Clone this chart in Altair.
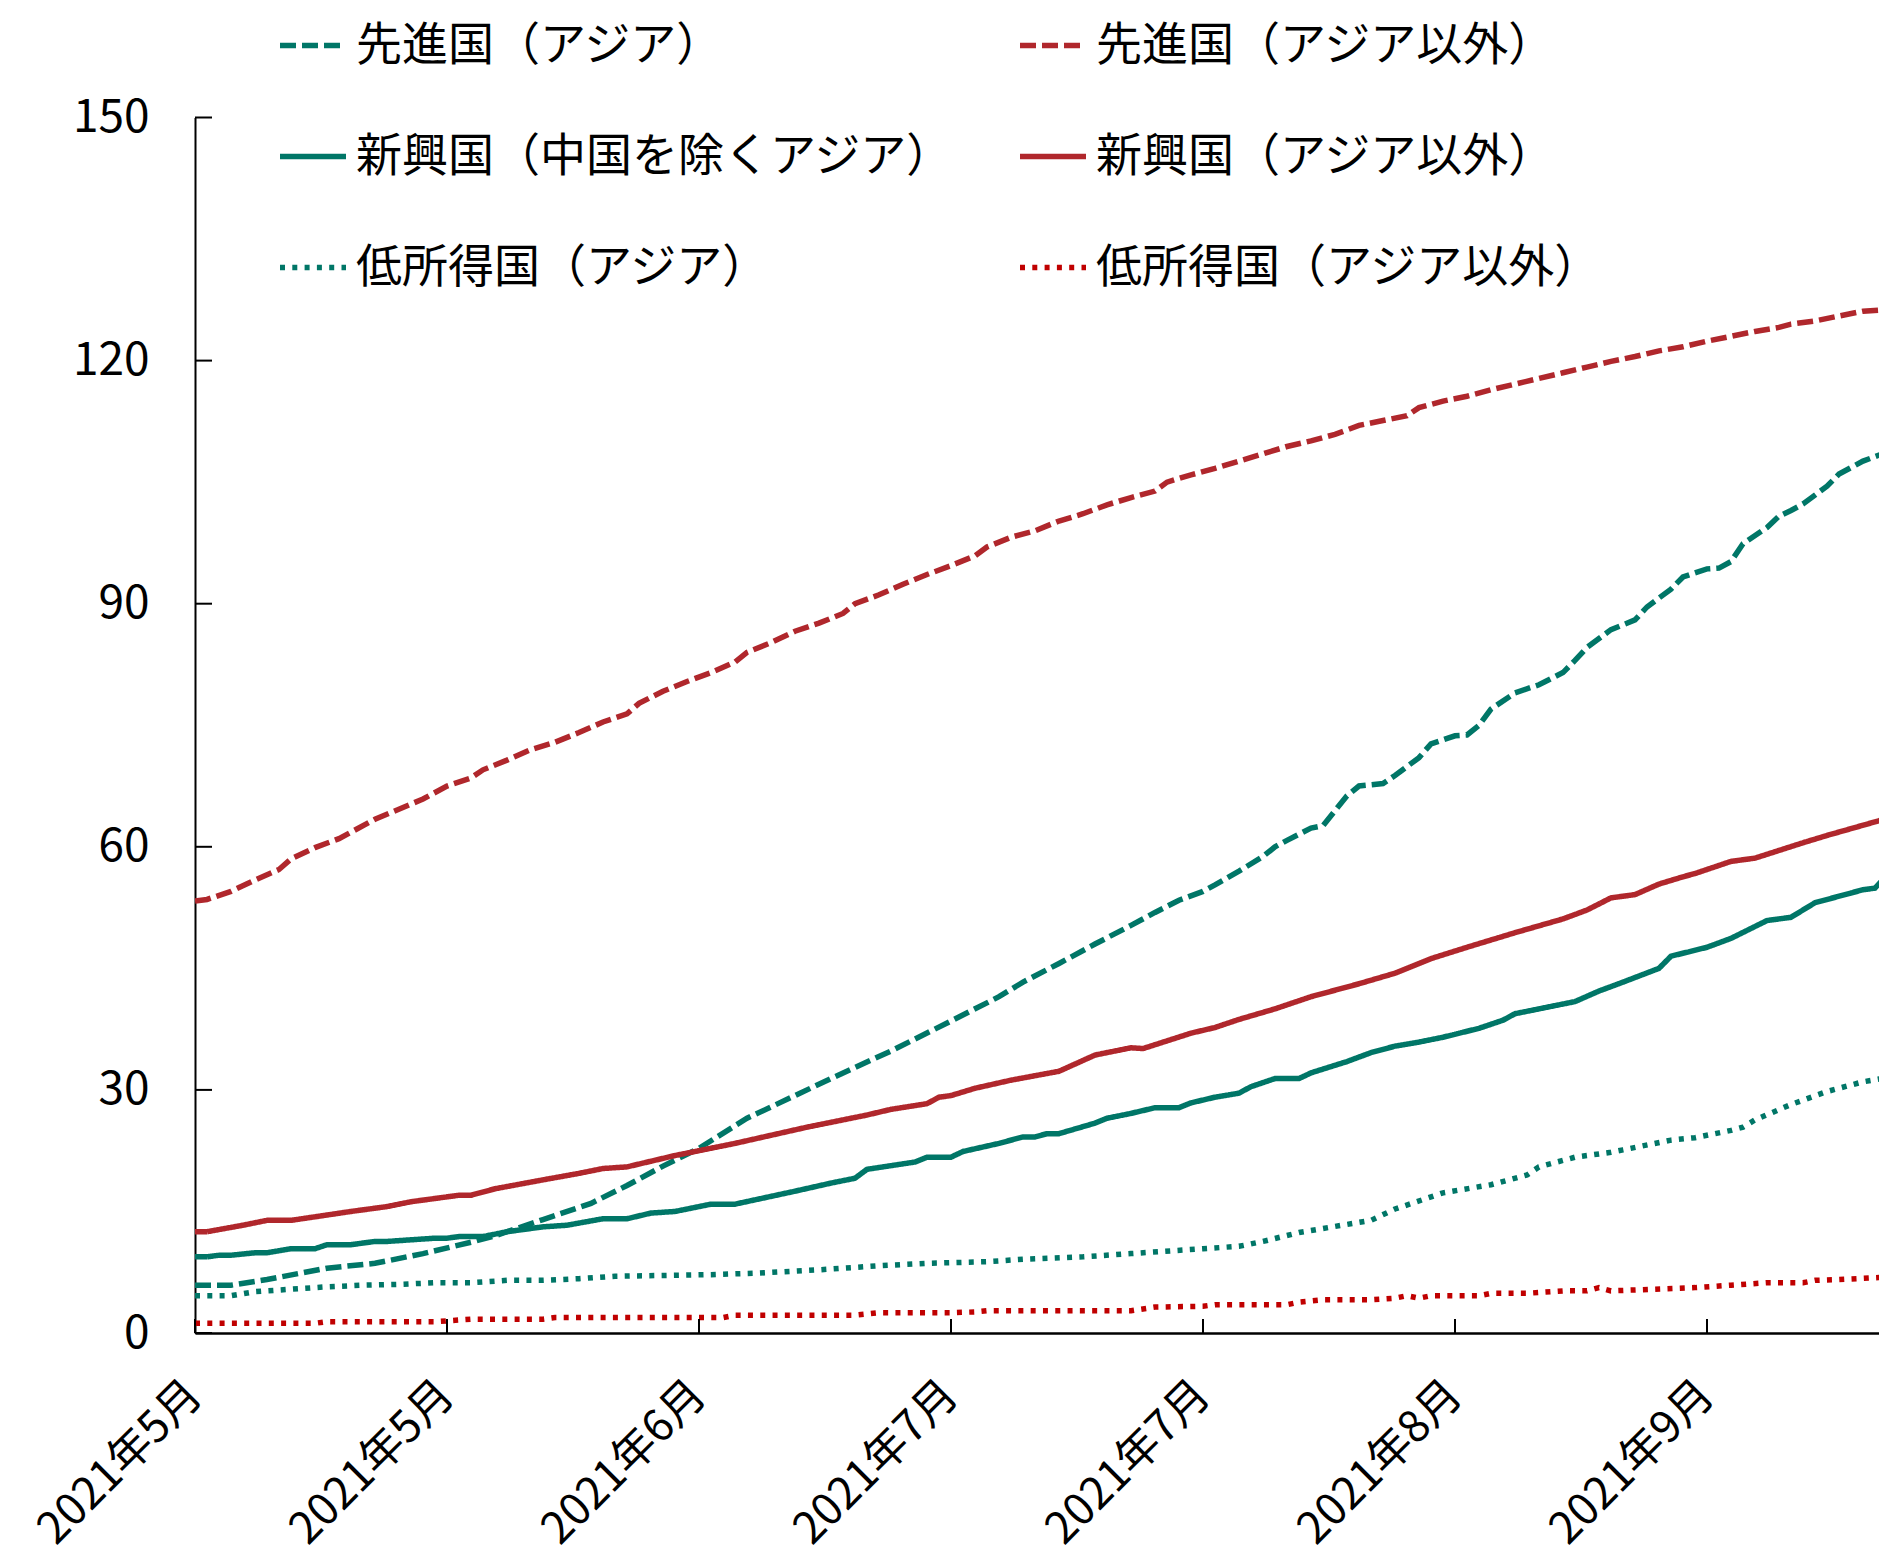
import altair as alt
import pandas as pd

# ---------------- data (day offsets from 2021-05-01, values) ----------------
start_date = "2021-05-01"

series_names = [
    "先進国（アジア）",
    "先進国（アジア以外）",
    "新興国（中国を除くアジア）",
    "新興国（アジア以外）",
    "低所得国（アジア）",
    "低所得国（アジア以外）",
]

adv_asia_days = [0, 3, 6, 11, 15, 19, 23, 25, 29, 33, 36, 39, 42, 46, 48, 53, 58, 63, 67, 69, 72, 75, 78,
                 80, 82, 84, 85, 87, 89, 90, 91, 93, 94, 96, 97, 99, 100, 102, 103, 105, 106, 107, 108, 110,
                 112, 114, 115, 116, 118, 120, 121, 123, 124, 126, 127, 128, 129, 131, 132, 133, 134, 136,
                 137, 139, 141]
adv_asia_vals = [5.9, 5.9, 6.6, 8.0, 8.6, 9.8, 11.2, 12.0, 14.0, 16.0, 18.2, 20.6, 22.8, 26.5, 27.9, 31.4,
                 34.8, 38.5, 41.5, 43.3, 45.6, 48.0, 50.3, 51.9, 53.4, 54.5, 55.3, 57.0, 58.8, 60.0, 60.8,
                 62.3, 62.6, 66.3, 67.5, 67.8, 68.8, 71.0, 72.7, 73.7, 73.8, 75.0, 77.0, 79.0, 80.0, 81.5,
                 83.0, 84.6, 86.8, 88.0, 89.6, 91.8, 93.3, 94.3, 94.4, 95.2, 97.4, 99.4, 100.8, 101.5,
                 102.3, 104.5, 106.0, 107.6, 108.7]

adv_other_days = [0, 1, 3, 5, 7, 8, 10, 12, 15, 19, 21, 23, 24, 26, 28, 30, 32, 34, 36, 37, 39, 41, 43, 45,
                  46, 48, 50, 52, 54, 55, 57, 59, 61, 63, 65, 66, 68, 70, 72, 74, 76, 78, 80, 81, 83, 85,
                  87, 89, 91, 93, 95, 97, 99, 101, 102, 104, 106, 108, 110, 112, 114, 116, 118, 120, 122,
                  124, 126, 128, 130, 132, 133, 135, 137, 139, 141]
adv_other_vals = [53.3, 53.5, 54.5, 55.9, 57.2, 58.5, 59.9, 61.0, 63.4, 65.9, 67.5, 68.5, 69.5, 70.7, 72.0,
                  72.9, 74.1, 75.4, 76.4, 77.7, 79.2, 80.4, 81.5, 82.8, 84.0, 85.2, 86.6, 87.6, 88.8, 90.0,
                  91.1, 92.4, 93.6, 94.7, 95.9, 97.0, 98.2, 99.0, 100.2, 101.1, 102.2, 103.1, 103.9, 105.0,
                  105.9, 106.7, 107.6, 108.5, 109.4, 110.1, 110.9, 112.0, 112.6, 113.2, 114.2, 115.0, 115.6,
                  116.4, 117.1, 117.8, 118.5, 119.2, 119.9, 120.5, 121.2, 121.7, 122.4, 123.0, 123.6, 124.1,
                  124.5, 124.9, 125.5, 126.1, 126.3]

em_asia_days = [0, 1, 2, 3, 5, 6, 8, 10, 11, 13, 15, 16, 18, 20, 21, 22, 24, 26, 29, 31, 34, 36, 38, 40,
                43, 45, 50, 53, 55, 56, 60, 61, 63, 64, 67, 69, 70, 71, 72, 75, 76, 78, 80, 82, 83, 85, 87,
                88, 90, 92, 93, 96, 98, 100, 102, 104, 107, 109, 110, 112, 115, 117, 119, 122, 123, 126,
                128, 131, 133, 135, 138, 139, 140, 141]
em_asia_vals = [9.4, 9.4, 9.6, 9.6, 9.9, 9.9, 10.4, 10.4, 10.9, 10.9, 11.3, 11.3, 11.5, 11.7, 11.7, 11.9,
                11.9, 12.5, 13.1, 13.3, 14.1, 14.1, 14.8, 15.0, 15.9, 15.9, 17.5, 18.5, 19.1, 20.2, 21.1,
                21.7, 21.7, 22.4, 23.4, 24.2, 24.2, 24.6, 24.6, 25.9, 26.5, 27.1, 27.8, 27.8, 28.4, 29.1,
                29.6, 30.4, 31.4, 31.4, 32.1, 33.5, 34.6, 35.4, 35.9, 36.5, 37.6, 38.6, 39.4, 40.0, 40.9,
                42.2, 43.3, 45.0, 46.5, 47.6, 48.7, 50.9, 51.3, 53.1, 54.3, 54.7, 54.9, 56.5]

em_other_days = [0, 1, 4, 6, 8, 13, 16, 18, 22, 23, 25, 29, 32, 34, 36, 38, 40, 45, 48, 51, 56, 58, 61, 62,
                 63, 65, 68, 72, 75, 78, 79, 83, 85, 87, 90, 93, 97, 100, 103, 106, 108, 110, 114, 116,
                 118, 120, 122, 124, 125, 128, 130, 134, 136, 141]
em_other_vals = [12.5, 12.5, 13.3, 13.9, 13.9, 15.0, 15.6, 16.2, 17.0, 17.0, 17.8, 18.9, 19.7, 20.3, 20.5,
                 21.2, 21.9, 23.4, 24.4, 25.4, 26.9, 27.6, 28.3, 29.1, 29.3, 30.2, 31.2, 32.3, 34.3, 35.2,
                 35.1, 37.0, 37.7, 38.7, 40.0, 41.5, 43.1, 44.4, 46.2, 47.6, 48.5, 49.4, 51.1, 52.2, 53.7,
                 54.1, 55.4, 56.3, 56.7, 58.2, 58.6, 60.5, 61.4, 63.5]

low_asia_days = [0, 3, 5, 8, 11, 14, 17, 20, 23, 26, 29, 32, 35, 39, 43, 47, 52, 57, 61, 66, 69, 74, 78,
                 84, 87, 89, 92, 96, 98, 100, 104, 108, 111, 112, 115, 118, 119, 123, 125, 128, 129, 130,
                 133, 136, 139, 141]
low_asia_vals = [4.6, 4.6, 5.1, 5.4, 5.7, 5.9, 6.0, 6.2, 6.2, 6.5, 6.5, 6.7, 7.0, 7.1, 7.2, 7.4, 7.8, 8.3,
                 8.6, 8.8, 9.1, 9.4, 9.8, 10.4, 10.7, 11.3, 12.4, 13.4, 13.9, 15.3, 17.3, 18.3, 19.5, 20.5,
                 21.7, 22.3, 22.6, 23.8, 24.1, 25.0, 25.4, 26.3, 28.2, 29.8, 31.0, 31.5]

low_other_days = [0, 10, 11, 20, 21, 23, 29, 30, 44, 45, 55, 57, 63, 65, 66, 78, 80, 84, 85, 91, 92, 94,
                  98, 100, 101, 102, 103, 107, 108, 111, 114, 116, 117, 118, 125, 128, 131, 134, 135, 137,
                  141]
low_other_vals = [1.2, 1.2, 1.4, 1.4, 1.5, 1.7, 1.7, 1.9, 1.9, 2.2, 2.2, 2.5, 2.5, 2.6, 2.75, 2.75, 3.2,
                  3.3, 3.5, 3.5, 3.8, 4.1, 4.1, 4.3, 4.6, 4.3, 4.6, 4.6, 4.9, 4.9, 5.2, 5.2, 5.6, 5.2, 5.6,
                  5.9, 6.2, 6.2, 6.5, 6.6, 6.9]

y_tick_values = [0, 30, 60, 90, 120, 150]
x_tick_days = [0, 21, 42, 63, 84, 105, 126]

series_colors = ["#007667", "#B0272C", "#007667", "#B0272C", "#007667", "#C00000"]
series_dashes = [[16, 6], [16, 6], [1, 0], [1, 0], [5, 7.3], [5, 7.3]]

# ---------------- build tables ----------------
base = pd.Timestamp(start_date)


def to_dates(days):
    return [(base + pd.Timedelta(days=d)).strftime("%Y-%m-%d") for d in days]


all_days = [adv_asia_days, adv_other_days, em_asia_days, em_other_days, low_asia_days, low_other_days]
all_vals = [adv_asia_vals, adv_other_vals, em_asia_vals, em_other_vals, low_asia_vals, low_other_vals]

frames = []
for name, ds, vs in zip(series_names, all_days, all_vals):
    frames.append(pd.DataFrame({"date": to_dates(ds), "value": vs, "series": name}))
df = pd.concat(frames, ignore_index=True)

xticks_df = pd.DataFrame({"date": to_dates(x_tick_days)})
yticks_df = pd.DataFrame({"value": y_tick_values})

PLOT_W = 1684
PLOT_H = 1215.5
NUM_FONT = "'Liberation Sans Narrow', 'Arial Narrow', 'Noto Sans CJK JP', sans-serif"
CJK_FONT = "'Noto Sans CJK JP', sans-serif"

x_scale = alt.Scale(
    type="utc",
    domain=[alt.DateTime(year=2021, month=5, date=1, utc=True),
            alt.DateTime(year=2021, month=9, date=18, hours=8, utc=True)],
)
y_scale = alt.Scale(domain=[0, 150], nice=False)

tick_dt = [alt.DateTime(year=d.year, month=d.month, date=d.day, utc=True)
           for d in [base + pd.Timedelta(days=k) for k in x_tick_days]]

x_axis = alt.Axis(values=tick_dt,
                  labelExpr="utcyear(datum.value) + '年' + (utcmonth(datum.value) + 1) + '月'",
                  labelAngle=315, labelAlign="right", labelBaseline="middle",
                  labelPadding=55, labelFont=NUM_FONT, labelFontSize=44, labelColor="black",
                  labelOverlap=False, labelFlush=False, labelBound=False, labelLimit=1000,
                  ticks=False, tickSize=0, grid=False, title=None,
                  domainColor="black", domainWidth=2.5)
y_axis = alt.Axis(values=y_tick_values, ticks=False, tickSize=0, grid=False, title=None,
                  labelFont=NUM_FONT, labelFontSize=46, labelColor="black", labelLimit=1000,
                  labelPadding=46, domainColor="black", domainWidth=2)

legend_def = alt.Legend(orient="none", legendX=82, legendY=-108, columns=2, direction="horizontal",
                        title=None, padding=0,
                        symbolType="stroke", symbolSize=4356, symbolStrokeWidth=5.5,
                        labelFont=CJK_FONT, labelFontSize=46, labelColor="black",
                        labelOffset=7, labelLimit=2000,
                        rowPadding=52, columnPadding=55)

lines = alt.Chart(df).mark_line(strokeWidth=5.5, clip=True).encode(
    x=alt.X("date:T", scale=x_scale, title=None, axis=x_axis),
    y=alt.Y("value:Q", scale=y_scale, title=None, axis=y_axis),
    color=alt.Color("series:N", scale=alt.Scale(domain=series_names, range=series_colors),
                    legend=legend_def),
    strokeDash=alt.StrokeDash("series:N", scale=alt.Scale(domain=series_names, range=series_dashes),
                              legend=legend_def),
    detail="series:N",
)

x_ticks = alt.Chart(xticks_df).mark_rule(color="black", strokeWidth=2).encode(
    x=alt.X("date:T", scale=x_scale, title=None, axis=x_axis),
    y=alt.value(PLOT_H),
    y2=alt.value(PLOT_H - 14),
)

y_ticks = alt.Chart(yticks_df).mark_rule(color="black", strokeWidth=2).encode(
    y=alt.Y("value:Q", scale=y_scale, title=None, axis=y_axis),
    x=alt.value(0),
    x2=alt.value(17),
)

chart = alt.layer(lines, x_ticks, y_ticks).properties(
    width=PLOT_W,
    height=PLOT_H,
    padding={"left": 187, "top": 109.5, "right": 0, "bottom": 225},
    autosize=alt.AutoSizeParams(type="none"),
    background="white",
).configure_view(strokeWidth=0)

chart.save("out.html", embed_options={"renderer": "svg", "actions": False})
